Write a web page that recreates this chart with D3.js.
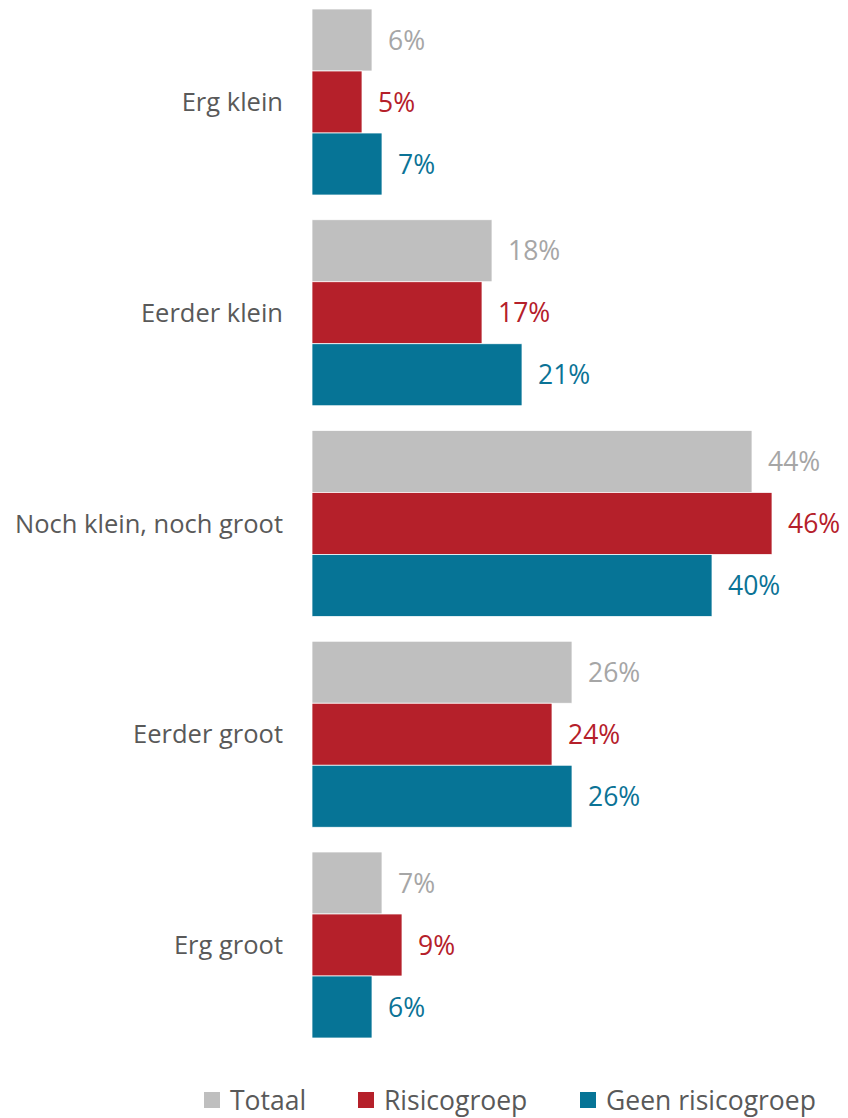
<!DOCTYPE html>
<html>
<head>
<meta charset="utf-8">
<script src="https://cdn.jsdelivr.net/npm/d3@7"></script>
<style>
  html, body { margin: 0; padding: 0; background: #fff; }
  svg { display: block; }
  text { font-family: "Open Sans", "Noto Sans", sans-serif; }
</style>
</head>
<body>
<script>
// Response categories, top to bottom
const categories = ["Erg klein", "Eerder klein", "Noch klein, noch groot", "Eerder groot", "Erg groot"];
// Series names (legend order) and their shares in percent
const seriesNames = ["Totaal", "Risicogroep", "Geen risicogroep"];
const totaal = [6, 18, 44, 26, 7];
const risicogroep = [5, 17, 46, 24, 9];
const geenRisicogroep = [7, 21, 40, 26, 6];

const seriesValues = [totaal, risicogroep, geenRisicogroep];
const barColors = ["#bfbfbf", "#b5202a", "#067496"];
const labelColors = ["#a6a6a6", "#b5202a", "#0b7396"];

const W = 848, H = 1118;
const svg = d3.select("body").append("svg").attr("width", W).attr("height", H);

const x = d3.scaleLinear().domain([0, 46]).range([312, 772]);
const y = d3.scaleBand().domain(categories).range([9, 1038]).paddingInner(0.1174).paddingOuter(0);
const ySub = d3.scaleBand().domain(seriesNames).range([0, y.bandwidth()]);

const groups = svg.selectAll("g.cat").data(categories).join("g")
  .attr("class", "cat")
  .attr("transform", d => `translate(0,${y(d)})`);

groups.each(function(cat, ci) {
  const g = d3.select(this);
  seriesNames.forEach((s, si) => {
    const v = seriesValues[si][ci];
    g.append("rect")
      .attr("x", x(0))
      .attr("y", ySub(s))
      .attr("width", x(v) - x(0))
      .attr("height", ySub.bandwidth())
      .attr("fill", barColors[si])
      .attr("stroke", "#fff")
      .attr("stroke-width", 0.75);
    g.append("text")
      .attr("x", x(v) + 16)
      .attr("y", ySub(s) + ySub.bandwidth() / 2)
      .attr("dy", "0.36em")
      .attr("fill", labelColors[si])
      .attr("font-size", 26.5)
      .text(v + "%");
  });
  g.append("text")
    .attr("x", 283)
    .attr("y", y.bandwidth() / 2)
    .attr("dy", "0.36em")
    .attr("text-anchor", "end")
    .attr("fill", "#595959")
    .attr("font-size", 25.5)
    .text(cat);
});

// Legend
const legendX = [204, 358, 580];
const legend = svg.selectAll("g.leg").data(seriesNames).join("g")
  .attr("class", "leg")
  .attr("transform", (d, i) => `translate(${legendX[i]},1092)`);
legend.append("rect").attr("width", 16).attr("height", 16).attr("fill", (d, i) => barColors[i]);
legend.append("text")
  .attr("x", 26).attr("y", 8).attr("dy", "0.36em")
  .attr("fill", "#595959").attr("font-size", 26.5)
  .text(d => d);
</script>
</body>
</html>
